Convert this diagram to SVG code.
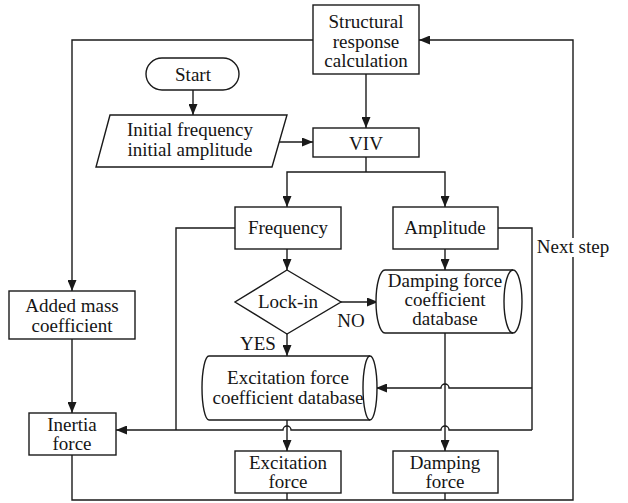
<svg xmlns="http://www.w3.org/2000/svg" width="628" height="503" viewBox="0 0 628 503">
<style>
.s{fill:#fff;stroke:#1a1a1a;stroke-width:1.4}
.c{fill:none;stroke:#1a1a1a;stroke-width:1.4}
.a{marker-end:url(#ah)}
.t{font-family:'Liberation Serif','DejaVu Serif',serif;font-size:19px;fill:#151515;text-anchor:middle}
</style>
<defs>
<marker id="ah" markerUnits="userSpaceOnUse" markerWidth="11" markerHeight="9" refX="11" refY="4.5" orient="auto">
<path d="M0,0 L11,4.5 L0,9 z" fill="#1a1a1a"/>
</marker>
</defs>
<rect width="628" height="503" fill="#fff"/>
<g id="connectors">
<path class="c a" d="M313,40 H72 V291"/>
<path class="c a" d="M573,238 V40 H419"/>
<path class="c" d="M72,455 V500 H573 V257"/>
<path class="c" d="M287,493 V500"/>
<path class="c" d="M445,493 V500"/>
<path class="c a" d="M193,90 V115"/>
<path class="c a" d="M279,142 H313"/>
<path class="c a" d="M366,74 V128"/>
<path class="c" d="M366,157 V172"/>
<path class="c a" d="M366,172 H287 V207"/>
<path class="c a" d="M366,172 H445 V207"/>
<path class="c a" d="M287,249 V270"/>
<path class="c a" d="M445,249 V270"/>
<path class="c a" d="M341,302 H378"/>
<path class="c a" d="M287,334 V356"/>
<path class="c" d="M235,228 H176 V430"/>
<path class="c" d="M498,228 H532 V430"/>
<path class="c a" d="M532,388 H449 A4,4 0 0 0 441,388 H376"/>
<path class="c a" d="M532,430 H449 A4,4 0 0 0 441,430 H291 A4,4 0 0 0 283,430 H116"/>
<path class="c a" d="M445,333 V451"/>
<path class="c a" d="M287,420 V451"/>
<path class="c a" d="M72,339 V413"/>
</g>
<g id="structural">
<rect class="s" x="313" y="5" width="106" height="69"/>
<text class="t" x="366" y="28">Structural</text>
<text class="t" x="366" y="48">response</text>
<text class="t" x="366" y="67">calculation</text>
</g>
<g id="start">
<rect class="s" x="146" y="58" width="93" height="32" rx="16"/>
<text class="t" x="193" y="81">Start</text>
</g>
<g id="initial">
<path class="s" d="M110,115 H287 L272,167 H96 Z"/>
<text class="t" x="190" y="136">Initial frequency</text>
<text class="t" x="190" y="156">initial amplitude</text>
</g>
<g id="viv">
<rect class="s" x="313" y="128" width="106" height="29"/>
<text class="t" x="366" y="150">VIV</text>
</g>
<g id="frequency">
<rect class="s" x="235" y="207" width="106" height="42"/>
<text class="t" x="288" y="234">Frequency</text>
</g>
<g id="amplitude">
<rect class="s" x="393" y="207" width="105" height="42"/>
<text class="t" x="445" y="234">Amplitude</text>
</g>
<g id="nextstep">
<text class="t" x="573" y="253">Next step</text>
</g>
<g id="lockin">
<path class="s" d="M287,270 L341,302 L287,334 L235,302 Z"/>
<text class="t" x="288" y="308">Lock-in</text>
<text class="t" x="351" y="327">NO</text>
<text class="t" x="258" y="350">YES</text>
</g>
<g id="dampingdb">
<path class="s" d="M385,270 H513 A9,31.5 0 0 1 513,333 H385 A9,31.5 0 0 1 385,270 Z"/>
<path class="c" d="M513,270 A9,31.5 0 0 0 513,333"/>
<text class="t" x="445" y="287">Damping force</text>
<text class="t" x="445" y="306">coefficient</text>
<text class="t" x="445" y="325">database</text>
</g>
<g id="addedmass">
<rect class="s" x="9" y="291" width="126" height="48"/>
<text class="t" x="72" y="312">Added mass</text>
<text class="t" x="72" y="332">coefficient</text>
</g>
<g id="excitationdb">
<path class="s" d="M209,356 H370 A7,32 0 0 1 370,420 H209 A7,32 0 0 1 209,356 Z"/>
<path class="c" d="M370,356 A7,32 0 0 0 370,420"/>
<text class="t" x="288" y="384">Excitation force</text>
<text class="t" x="288" y="404">coefficient database</text>
</g>
<g id="inertia">
<rect class="s" x="29" y="413" width="87" height="42"/>
<text class="t" x="72" y="431">Inertia</text>
<text class="t" x="72" y="450">force</text>
</g>
<g id="excitation">
<rect class="s" x="235" y="451" width="106" height="42"/>
<text class="t" x="288" y="469">Excitation</text>
<text class="t" x="288" y="488">force</text>
</g>
<g id="damping">
<rect class="s" x="393" y="451" width="105" height="42"/>
<text class="t" x="445" y="469">Damping</text>
<text class="t" x="445" y="488">force</text>
</g>
</svg>
